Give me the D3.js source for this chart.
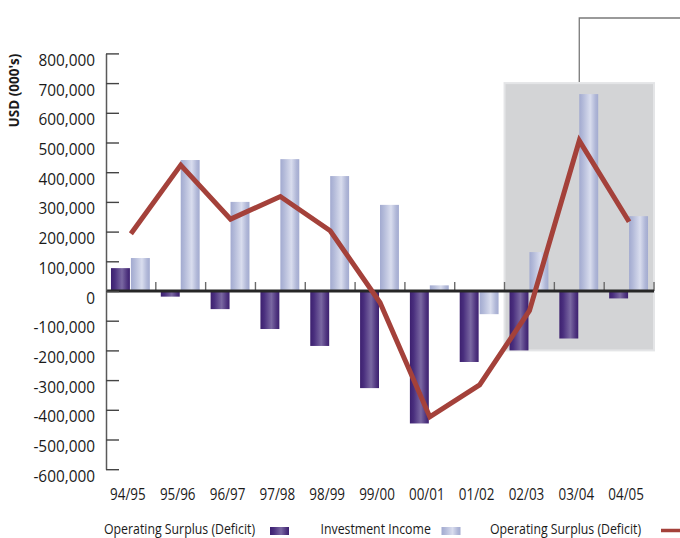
<!DOCTYPE html>
<html>
<head>
<meta charset="utf-8">
<script src="https://cdn.jsdelivr.net/npm/d3@7"></script>
<style>
  html, body { margin: 0; padding: 0; background: #ffffff; }
  svg { display: block; }
  text { font-family: "Open Sans", "Noto Sans", sans-serif; fill: #1a1a1a; }
</style>
</head>
<body>
<div id="chart"></div>
<script>
// Fiscal years
const categories = ["94/95", "95/96", "96/97", "97/98", "98/99", "99/00",
                    "00/01", "01/02", "02/03", "03/04", "04/05"];

// USD (000's)
const operatingSurplusBars = [77000, -19000, -61000, -128000, -185000, -327000,
                              -446000, -239000, -200000, -160000, -25000];
const investmentIncome = [111000, 441000, 300000, 444000, 387000, 290000,
                          19000, -78000, 131000, 663000, 252000];
const operatingSurplusLine = [193000, 424000, 242000, 318000, 203000, -39000,
                              -424000, -316000, -66000, 506000, 233000];

const yTicks = [800000, 700000, 600000, 500000, 400000, 300000, 200000, 100000, 0,
                -100000, -200000, -300000, -400000, -500000, -600000];

const legendLabels = ["Operating Surplus (Deficit)", "Investment Income", "Operating Surplus (Deficit)"];
const axisTitle = "USD (000's)";

// Highlighted period (shaded panel) and its value extent
const highlightCategories = ["02/03", "03/04", "04/05"];
const highlightExtent = [-200000, 700000];
const calloutCategory = "03/04";

const W = 680, H = 538;
const svg = d3.select("#chart").append("svg").attr("width", W).attr("height", H);

const x = d3.scaleBand().domain(categories).range([106, 654]).paddingInner(0).paddingOuter(0);
const y = d3.scaleLinear().domain([-600000, 800000]).range([469.2, 53.4]);
const bw = x.bandwidth();

// Gradients for the cylinder-like bars
const defs = svg.append("defs");
function gradient(id, stops) {
  const g = defs.append("linearGradient").attr("id", id)
    .attr("x1", "0%").attr("x2", "100%").attr("y1", "0%").attr("y2", "0%");
  stops.forEach(([o, c]) => g.append("stop").attr("offset", o).attr("stop-color", c));
}
gradient("gDark", [["0%", "#3c206f"], ["20%", "#4a2f7e"], ["58%", "#7a68a2"], ["85%", "#4f357f"], ["100%", "#3c206f"]]);
gradient("gLight", [["0%", "#a2aad0"], ["20%", "#b3bad9"], ["58%", "#d9ddee"], ["85%", "#b0b7d7"], ["100%", "#a3abd0"]]);

const locale = d3.formatLocale({ decimal: ".", thousands: ",", grouping: [3], currency: ["$", ""], minus: "-" });
const fmt = locale.format(",");

// Shaded highlight panel
const hx0 = x(highlightCategories[0]);
const hx1 = x(highlightCategories[highlightCategories.length - 1]) + bw;
svg.append("rect")
  .attr("x", hx0).attr("y", y(highlightExtent[1]))
  .attr("width", hx1 - hx0).attr("height", y(highlightExtent[0]) - y(highlightExtent[1]))
  .attr("fill", "#d3d4d6").attr("stroke", "#e4e5e7").attr("stroke-width", 2);

// Callout leader from the panel
const cx = x(calloutCategory) + bw / 2;
svg.append("path")
  .attr("d", `M${cx},${y(highlightExtent[1]) - 1} V18 H${W}`)
  .attr("fill", "none").attr("stroke", "#7a7a7a").attr("stroke-width", 1.3);

// Bars
const barW = bw * 0.38;
function barRect(v) { return { y: Math.min(y(v), y(0)), h: Math.abs(y(v) - y(0)) }; }
svg.append("g").selectAll("rect").data(categories).join("rect")
  .attr("x", c => x(c) + bw * 0.1)
  .attr("y", (c, i) => barRect(operatingSurplusBars[i]).y)
  .attr("width", barW)
  .attr("height", (c, i) => barRect(operatingSurplusBars[i]).h)
  .attr("fill", "url(#gDark)");
svg.append("g").selectAll("rect").data(categories).join("rect")
  .attr("x", c => x(c) + bw * 0.5)
  .attr("y", (c, i) => barRect(investmentIncome[i]).y)
  .attr("width", barW)
  .attr("height", (c, i) => barRect(investmentIncome[i]).h)
  .attr("fill", "url(#gLight)");

// Category boundary ticks on the zero line
const bounds = categories.map(c => x(c)).slice(1).concat([x.range()[1]]);
svg.append("g").selectAll("line").data(bounds).join("line")
  .attr("x1", d => d).attr("x2", d => d)
  .attr("y1", y(0)).attr("y2", y(0) - 9)
  .attr("stroke", "#6a6a6a").attr("stroke-width", 1.4);

// Zero line
svg.append("line")
  .attr("x1", x.range()[0]).attr("x2", x.range()[1])
  .attr("y1", y(0)).attr("y2", y(0))
  .attr("stroke", "#262626").attr("stroke-width", 3);

// Y axis
const yAxis = svg.append("g").attr("transform", `translate(${x.range()[0]},0)`)
  .call(d3.axisLeft(y).tickValues(yTicks).tickFormat(fmt)
    .tickSizeInner(-13).tickSizeOuter(0).tickPadding(11));
yAxis.select(".domain").attr("stroke", "#5a5a5a").attr("stroke-width", 1.5);
yAxis.selectAll(".tick line").attr("stroke", "#444").attr("stroke-width", 1.4);
yAxis.selectAll(".tick text")
  .attr("dy", "0.75em")
  .attr("font-size", 16)
  .attr("fill", "#1a1a1a")
  .attr("transform", "scale(0.96,1)")
  .attr("x", -11 / 0.96);
yAxis.attr("font-family", null);

// X axis labels
const xAxis = svg.append("g").attr("transform", `translate(-3,${y.range()[0]})`)
  .call(d3.axisBottom(x).tickSize(0).tickPadding(0));
xAxis.select(".domain").remove();
xAxis.attr("font-family", null);
xAxis.selectAll(".tick text")
  .attr("y", 31).attr("dy", 0)
  .attr("font-size", 16)
  .attr("fill", "#1a1a1a")
  .attr("transform", "scale(0.84,1)");

// Operating surplus line
const line = d3.line()
  .x((d, i) => x(categories[i]) + bw / 2)
  .y(d => y(d));
svg.append("path")
  .datum(operatingSurplusLine)
  .attr("d", line)
  .attr("fill", "none")
  .attr("stroke", "#a4413a")
  .attr("stroke-width", 5)
  .attr("stroke-linejoin", "miter")
  .attr("stroke-miterlimit", 3);

// Axis title
svg.append("text")
  .attr("transform", "translate(19,90.5) rotate(-90)")
  .attr("text-anchor", "middle")
  .attr("font-size", 13.5)
  .attr("font-weight", 700)
  .text(axisTitle);

// Legend
const legendY = 534;
const lg = svg.append("g");
function legendText(x0, s) {
  lg.append("text")
    .attr("transform", `translate(${x0},${legendY}) scale(0.85,1)`)
    .attr("font-size", 14.5)
    .attr("fill", "#222")
    .text(s);
}
legendText(104, legendLabels[0]);
lg.append("rect").attr("x", 270).attr("y", 527).attr("width", 19).attr("height", 8).attr("fill", "url(#gDark)");
legendText(320.5, legendLabels[1]);
lg.append("rect").attr("x", 441.5).attr("y", 527).attr("width", 19).attr("height", 8).attr("fill", "url(#gLight)");
legendText(490, legendLabels[2]);
lg.append("line").attr("x1", 661).attr("x2", 680).attr("y1", 530.5).attr("y2", 530.5)
  .attr("stroke", "#a4413a").attr("stroke-width", 3.5);
</script>
</body>
</html>
